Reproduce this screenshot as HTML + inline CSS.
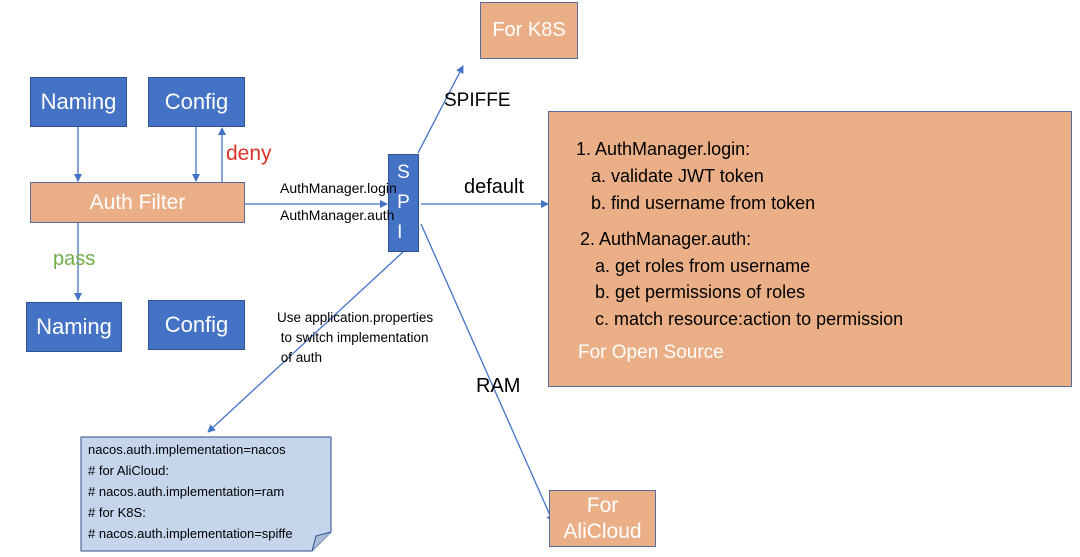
<!DOCTYPE html>
<html><head><style>
body{margin:0;width:1080px;height:557px;background:#fff;position:relative;overflow:hidden;font-family:"Liberation Sans",sans-serif;}
.b{position:absolute;background:#4472c4;border:1px solid #2f528f;color:#fff;display:flex;align-items:center;justify-content:center;font-size:21px;box-sizing:border-box;}
.o{position:absolute;background:#eaaf86;border:1px solid #5a6a9a;color:#fff;display:flex;align-items:center;justify-content:center;font-size:20px;box-sizing:border-box;text-align:center;}
.t{position:absolute;white-space:nowrap;color:#000;}
</style></head><body>
<svg width="1080" height="557" style="position:absolute;left:0;top:0">
<defs><marker id="a" markerWidth="8" markerHeight="8" refX="7" refY="4" orient="auto" markerUnits="userSpaceOnUse"><path d="M0,0 L8,4 L0,8z" fill="#4472c4"/></marker></defs>
<g stroke="#4472c4" stroke-width="1.3" fill="none">
<line x1="78" y1="127" x2="78" y2="181" marker-end="url(#a)"/>
<line x1="196" y1="127" x2="196" y2="181" marker-end="url(#a)"/>
<line x1="222" y1="182" x2="222" y2="128" marker-end="url(#a)"/>
<line x1="78" y1="223" x2="78" y2="300" marker-end="url(#a)"/>
<line x1="245" y1="204" x2="387" y2="204" marker-end="url(#a)"/>
<line x1="421" y1="204" x2="548" y2="204" marker-end="url(#a)"/>
<line x1="418" y1="153" x2="463" y2="66" marker-end="url(#a)"/>
<line x1="421" y1="224" x2="553" y2="522" marker-end="url(#a)"/>
<line x1="403" y1="252" x2="208" y2="432" marker-end="url(#a)"/>
</g>
<path d="M81,437 H331 V532 L312,551 H81 Z" fill="#c5d5ec" stroke="#2f528f" stroke-width="1"/>
<path d="M331,532 L316,536 L312,551" fill="#a9bcd8" stroke="#2f528f" stroke-width="1"/>
</svg>
<div class="b" style="left:30px;top:77px;width:97px;height:50px;font-size:22px">Naming</div>
<div class="b" style="left:148px;top:77px;width:97px;height:50px;font-size:22px">Config</div>
<div class="o" style="left:30px;top:182px;width:215px;height:41px;font-size:21px">Auth Filter</div>
<div class="b" style="left:26px;top:302px;width:96px;height:50px;font-size:22px">Naming</div>
<div class="b" style="left:148px;top:300px;width:97px;height:50px;font-size:22px">Config</div>
<div class="b" style="left:388px;top:154px;width:31px;height:98px;flex-direction:column;font-size:19px;line-height:30px">S<br>P<br>I</div>
<div class="o" style="left:480px;top:2px;width:98px;height:57px">For K8S</div>
<div class="o" style="left:549px;top:490px;width:107px;height:57px;line-height:26px;font-size:21px">For<br>AliCloud</div>
<div class="o" style="left:548px;top:111px;width:524px;height:276px;display:block"></div>
<div class="t" style="left:226px;top:142px;color:#e0302a;font-size:21px">deny</div>
<div class="t" style="left:53px;top:248px;color:#70ad47;font-size:20px">pass</div>
<div class="t" style="left:444px;top:90px;font-size:19px">SPIFFE</div>
<div class="t" style="left:464px;top:176px;font-size:20px">default</div>
<div class="t" style="left:476px;top:375px;font-size:20px">RAM</div>
<div class="t" style="left:280px;top:180px;font-size:14px">AuthManager.login</div>
<div class="t" style="left:280px;top:207px;font-size:14px">AuthManager.auth</div>
<div class="t" style="left:277px;top:308px;font-size:13.5px;line-height:20px">Use application.properties<br>&nbsp;to switch implementation<br>&nbsp;of auth</div>
<div class="t" style="left:576px;top:136px;font-size:18px;line-height:27px">1. AuthManager.login:<br>&nbsp;&nbsp;&nbsp;a. validate JWT token<br>&nbsp;&nbsp;&nbsp;b. find username from token</div>
<div class="t" style="left:580px;top:226px;font-size:18px;line-height:26.5px">2. AuthManager.auth:<br>&nbsp;&nbsp;&nbsp;a. get roles from username<br>&nbsp;&nbsp;&nbsp;b. get permissions of roles<br>&nbsp;&nbsp;&nbsp;c. match resource:action to permission</div>
<div class="t" style="left:578px;top:342px;font-size:19px;color:#fff">For Open Source</div>
<div class="t" style="left:88px;top:439px;font-size:13px;line-height:21px">nacos.auth.implementation=nacos<br># for AliCloud:<br># nacos.auth.implementation=ram<br># for K8S:<br># nacos.auth.implementation=spiffe</div>
</body></html>
